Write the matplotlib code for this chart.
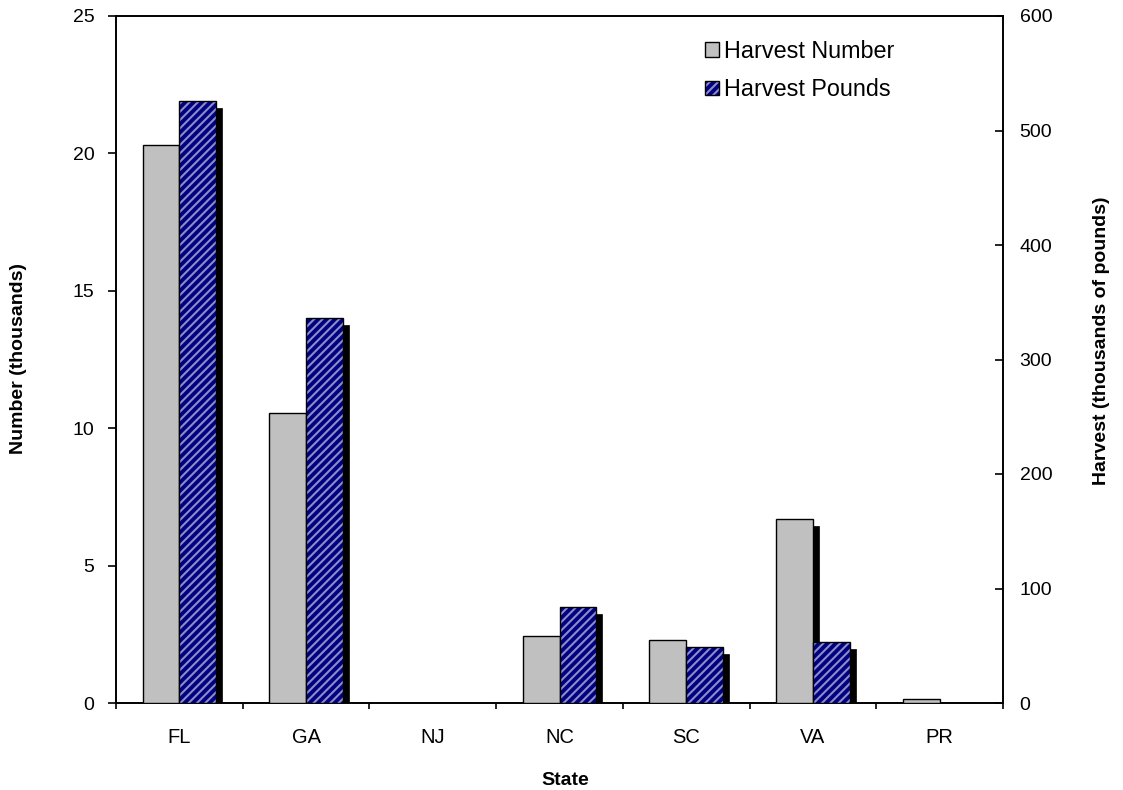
import matplotlib
matplotlib.use('Agg')
import matplotlib.pyplot as plt
import numpy as np
from matplotlib.patches import Rectangle, Patch
from matplotlib.transforms import ScaledTranslation

states = ['FL', 'GA', 'NJ', 'NC', 'SC', 'VA', 'PR']
harvest_number = [20.3, 10.55, 0, 2.45, 2.28, 6.7, 0.15]      # thousands
harvest_pounds = [526, 336, 0, 84, 49, 53, 0]                  # thousands of pounds

plt.rcParams['font.family'] = ['Liberation Sans', 'DejaVu Sans']
plt.rcParams['hatch.linewidth'] = 1.5

GRAY = '#C0C0C0'
NAVY = '#000080'
STRIPE = '#8C8CC8'

W, H = 1123, 790
fig = plt.figure(figsize=(W / 100, H / 100), dpi=100)
ax = fig.add_axes([116 / W, 87 / H, 887 / W, 687 / H])
ax2 = ax.twinx()

x = np.arange(len(states))
w = 0.29


def add_shadows(axis, bars):
    off = ScaledTranslation(6 / 100, -7 / 100, fig.dpi_scale_trans)
    for b in bars:
        h = b.get_height()
        if h <= 0:
            continue
        r = Rectangle((b.get_x(), 0), b.get_width(), h, facecolor='black',
                      edgecolor='black', linewidth=0.5, zorder=2,
                      transform=axis.transData + off)
        axis.add_artist(r)
        r.set_clip_path(axis.patch)


# gray bars (left axis)
gray_bars = ax.bar(x - w / 2, harvest_number, w, color=GRAY, edgecolor='black',
                   linewidth=1.0, zorder=3)
add_shadows(ax, gray_bars)

# blue hatched bars (right axis)
hatch_bars = ax2.bar(x + w / 2, harvest_pounds, w, color=NAVY, edgecolor=STRIPE,
                     hatch='////', linewidth=0, zorder=3)
outline_bars = ax2.bar(x + w / 2, harvest_pounds, w, fill=False, edgecolor='black',
                       linewidth=1.0, zorder=4)
add_shadows(ax2, outline_bars)

# axes limits and ticks
ax.set_xlim(-0.5, len(states) - 0.5)
ax.set_ylim(0, 25)
ax2.set_ylim(0, 600)
ax.set_yticks(np.arange(0, 26, 5))
ax2.set_yticks(np.arange(0, 601, 100))

ax.set_xticks(np.arange(-0.5, len(states), 1.0))
ax.set_xticklabels([])
ax.set_xticks(x, minor=True)
ax.set_xticklabels(states, minor=True)
ax.tick_params(axis='x', which='major', direction='out', length=4, width=1.2)
ax.tick_params(axis='x', which='minor', length=0, pad=18, labelsize=14.5)
ax.tick_params(axis='y', direction='out', length=5.5, width=1.2, pad=10, labelsize=14)
ax2.tick_params(axis='y', direction='in', length=5.5, width=1.2, pad=12, labelsize=14)

for sp in ['left', 'bottom', 'top']:
    ax.spines[sp].set_linewidth(1.4)
ax.spines['right'].set_visible(False)
for sp in ['left', 'bottom', 'top']:
    ax2.spines[sp].set_visible(False)
ax2.spines['right'].set_linewidth(1.4)

# axis titles
fig.text(565 / W, 1 - 785 / H, 'State', ha='center', va='baseline',
         fontsize=14, fontweight='bold')
fig.text(19 / W, 1 - 358 / H, 'Number (thousands)', ha='center', va='center',
         rotation=90, fontsize=14, fontweight='bold')
fig.text(1101 / W, 1 - 341 / H, 'Harvest (thousands of pounds)', ha='center',
         va='center', rotation=90, fontsize=14, fontweight='bold')


# legend
class HatchHandler:
    def legend_artist(self, legend, orig_handle, fontsize, handlebox):
        x0, y0 = handlebox.xdescent, handlebox.ydescent
        wd, ht = handlebox.width, handlebox.height
        t = handlebox.get_transform()
        p1 = Rectangle((-x0, -y0), wd, ht, facecolor=NAVY, edgecolor=STRIPE,
                       hatch='////', linewidth=0, transform=t)
        p2 = Rectangle((-x0, -y0), wd, ht, fill=False, edgecolor='black',
                       linewidth=1.0, transform=t)
        handlebox.add_artist(p1)
        handlebox.add_artist(p2)
        return p2


h_gray = Patch(facecolor=GRAY, edgecolor='black', linewidth=1.0)
h_blue = Patch(facecolor=NAVY, edgecolor='black', linewidth=1.0)
fig.legend([h_gray, h_blue], ['Harvest Number', 'Harvest Pounds'],
           handler_map={h_blue: HatchHandler()},
           loc='upper left', bbox_to_anchor=(705 / W, 1 - 40 / H),
           frameon=False, fontsize=16.8, handlelength=0.6, handleheight=0.6,
           handletextpad=0.2, labelspacing=0.65, borderpad=0, borderaxespad=0)

fig.savefig('out.png', dpi=100)
